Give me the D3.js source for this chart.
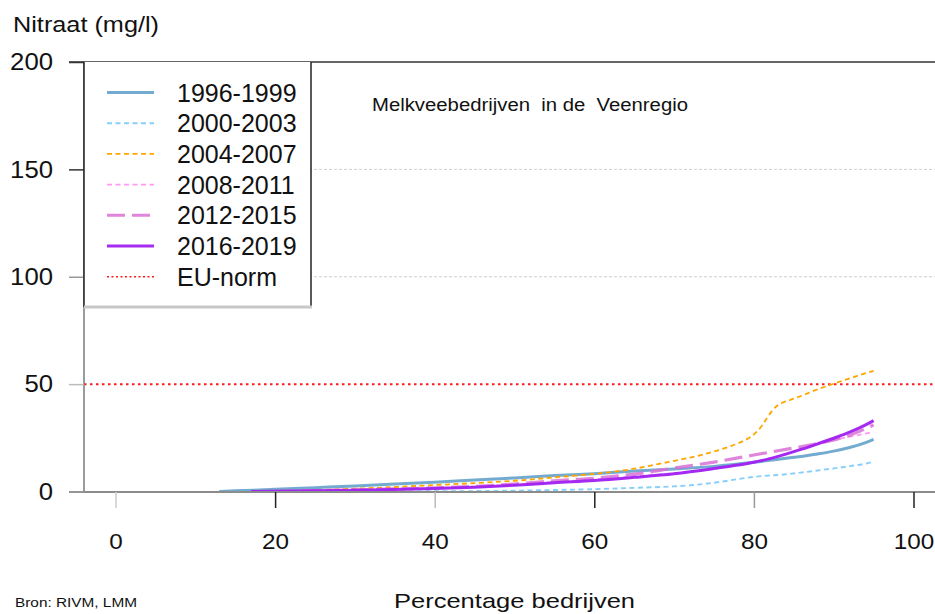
<!DOCTYPE html>
<html>
<head>
<meta charset="utf-8">
<script src="https://cdn.jsdelivr.net/npm/d3@7"></script>
<style>
  body { margin: 0; background: #fff; }
  text { font-family: "Liberation Sans", Arial, sans-serif; fill: #111; }
</style>
</head>
<body>
<div id="chart"></div>
<script>
// values: percentage of farms (x) vs nitrate mg/l (y)
var labels = ["1996-1999", "2000-2003", "2004-2007", "2008-2011", "2012-2015", "2016-2019"];

var x1996 = [13, 15, 20, 25, 30, 35, 40, 45, 50, 55, 60, 65, 70, 75, 80, 85, 88, 90, 92, 94, 95];
var y1996 = [0, 0.3, 1.0, 1.8, 2.6, 3.5, 4.3, 5.4, 6.3, 7.4, 8.3, 9.5, 10.5, 11.7, 13.6, 15.9, 17.5, 18.8, 20.5, 22.8, 24.3];

var x2000 = [25, 30, 35, 40, 45, 50, 55, 60, 65, 70, 73, 76, 78, 80, 84, 88, 92, 94, 95];
var y2000 = [0, 0, 0.05, 0.1, 0.2, 0.4, 0.7, 1.1, 1.7, 2.4, 3.2, 4.6, 5.8, 6.8, 8.0, 9.8, 11.8, 13.0, 13.9];

var x2004 = [20, 25, 30, 35, 40, 45, 50, 55, 60, 65, 68, 72, 75, 77, 78.5, 79.5, 80.3, 81, 81.6, 82.2, 82.8, 83.5, 84.5, 86, 88, 90, 92.5, 95];
var y2004 = [0, 0.6, 1.3, 2.1, 3.0, 3.9, 5.0, 6.6, 8.2, 10.6, 12.8, 15.8, 18.6, 21.0, 23.2, 25.2, 27.6, 30.6, 34.0, 37.2, 39.6, 41.2, 42.6, 44.6, 47.6, 50.2, 53.3, 56.2];

var x2008 = [20, 25, 30, 35, 40, 45, 50, 55, 60, 65, 70, 75, 80, 84, 88, 90, 92, 94, 95];
var y2008 = [0, 0.3, 0.7, 1.1, 1.6, 2.3, 3.2, 4.4, 5.6, 7.0, 8.6, 10.6, 13.8, 17.4, 22.3, 24.0, 25.5, 27.0, 27.8];

var x2012 = [17, 20, 25, 30, 35, 40, 45, 50, 55, 60, 65, 70, 75, 80, 84, 87, 90, 92, 94, 95];
var y2012 = [0, 0.1, 0.4, 0.8, 1.2, 1.7, 2.4, 3.5, 5.0, 6.2, 8.1, 10.9, 13.7, 17.0, 19.6, 21.6, 24.0, 26.2, 29.3, 31.0];

var x2016 = [17, 20, 25, 30, 35, 40, 45, 50, 55, 60, 65, 70, 75, 78, 80, 82, 84, 86, 88, 90, 92, 94, 95];
var y2016 = [0, 0.1, 0.3, 0.6, 0.9, 1.4, 2.0, 2.9, 4.1, 5.1, 6.6, 8.3, 10.7, 12.3, 13.6, 15.3, 17.4, 19.7, 22.2, 24.8, 27.6, 31.0, 33.0];

var euNorm = 50;
var xTicks = [0, 20, 40, 60, 80, 100];
var yTicks = [0, 50, 100, 150, 200];
var gridValues = [100, 150];

var width = 935,
  height = 614;

var svg = d3
  .select("#chart")
  .append("svg")
  .attr("width", width)
  .attr("height", height);

var xscale = d3.scaleLinear().domain([0, 100]).range([115.5, 913.5]);
var yscale = d3.scaleLinear().domain([0, 200]).range([491.5, 62]);

var left = 84,
  right = width;

// gridlines
svg
  .selectAll(".grid")
  .data(gridValues)
  .enter()
  .append("line")
  .attr("x1", left)
  .attr("x2", right)
  .attr("y1", (d) => yscale(d))
  .attr("y2", (d) => yscale(d))
  .attr("stroke", "#cfcfcf")
  .attr("stroke-width", 1)
  .attr("stroke-dasharray", "3,2");

// EU norm
svg
  .append("line")
  .attr("x1", left)
  .attr("x2", right)
  .attr("y1", yscale(euNorm))
  .attr("y2", yscale(euNorm))
  .attr("stroke", "#ff1a1a")
  .attr("stroke-width", 2)
  .attr("stroke-dasharray", "2.5,3.5");

var series = [
  { name: labels[0], xs: x1996, ys: y1996, color: "#6ca6cd", w: 3, dash: null, op: 0.95 },
  { name: labels[1], xs: x2000, ys: y2000, color: "#87cefa", w: 1.9, dash: "5,3.5", op: 1 },
  { name: labels[2], xs: x2004, ys: y2004, color: "#ffa500", w: 1.8, dash: "5,3.5", op: 1 },
  { name: labels[3], xs: x2008, ys: y2008, color: "#ff99f5", w: 1.8, dash: "5,3.5", op: 1 },
  { name: labels[4], xs: x2012, ys: y2012, color: "#da70d6", w: 3.2, dash: "18,7", op: 0.85 },
  { name: labels[5], xs: x2016, ys: y2016, color: "#a020f0", w: 3, dash: null, op: 0.95 }
];

var line = d3
  .line()
  .x((d) => xscale(d[0]))
  .y((d) => yscale(d[1]))
  .curve(d3.curveMonotoneX);

series.forEach((s) => {
  var pts = s.xs.map((v, i) => [v, s.ys[i]]);
  svg
    .append("path")
    .attr("d", line(pts))
    .attr("fill", "none")
    .attr("stroke", s.color)
    .attr("stroke-width", s.w)
    .attr("stroke-opacity", s.op)
    .attr("stroke-dasharray", s.dash);
});

// frame: top border dark, left and bottom grey
svg.append("line").attr("x1", 69).attr("x2", right).attr("y1", 62).attr("y2", 62)
  .attr("stroke", "#333").attr("stroke-width", 1.5);
svg.append("line").attr("x1", left).attr("x2", left).attr("y1", 62).attr("y2", 492)
  .attr("stroke", "#7a7a7a").attr("stroke-width", 1.5);
svg.append("line").attr("x1", 69).attr("x2", right).attr("y1", 492).attr("y2", 492)
  .attr("stroke", "#8c8c8c").attr("stroke-width", 2);

// axes
var tickColorY = { 0: "#999", 50: "#bbb", 100: "#999", 150: "#333", 200: "#333" };
var tickColorX = { 0: "#ccc", 20: "#222", 40: "#bbb", 60: "#222", 80: "#999", 100: "#222" };

var y_axis = d3.axisLeft(yscale).tickValues(yTicks).tickSize(15).tickSizeOuter(0).tickPadding(16);
var gy = svg.append("g").attr("transform", "translate(" + left + ",0)").call(y_axis);
gy.select(".domain").remove();
gy.selectAll(".tick line").attr("stroke", (d) => tickColorY[d]).attr("stroke-width", 1.5);
gy.selectAll(".tick text")
  .style("font-size", "24px")
  .attr("fill", "#111")
  .attr("textLength", (d) => String(d).length * 14.3)
  .attr("lengthAdjust", "spacingAndGlyphs");

var x_axis = d3.axisBottom(xscale).tickValues(xTicks).tickSize(16).tickSizeOuter(0).tickPadding(25);
var gx = svg.append("g").attr("transform", "translate(0,492)").call(x_axis);
gx.select(".domain").remove();
gx.selectAll(".tick line").attr("stroke", (d) => tickColorX[d]).attr("stroke-width", 1.5);
gx.selectAll(".tick text")
  .style("font-size", "22px")
  .attr("fill", "#111")
  .attr("textLength", (d) => String(d).length * 13.5)
  .attr("lengthAdjust", "spacingAndGlyphs");

// legend
var lg = svg.append("g");
lg.append("rect")
  .attr("x", left)
  .attr("y", 62)
  .attr("width", 311 - left)
  .attr("height", 307 - 62)
  .attr("fill", "#fff");
lg.append("line").attr("x1", left).attr("x2", left).attr("y1", 62).attr("y2", 307)
  .attr("stroke", "#222").attr("stroke-width", 1.5);
lg.append("line").attr("x1", 311).attr("x2", 311).attr("y1", 62).attr("y2", 307)
  .attr("stroke", "#222").attr("stroke-width", 1.5);
lg.append("line").attr("x1", left).attr("x2", 312).attr("y1", 307).attr("y2", 307)
  .attr("stroke", "#c8c8c8").attr("stroke-width", 3);

var legendItems = series.map((s) => ({ name: s.name, color: s.color, w: s.w, dash: s.dash, op: s.op }));
legendItems.push({ name: "EU-norm", color: "#ff1a1a", w: 1.6, dash: "2,2.5", op: 1 });

legendItems.forEach((d, i) => {
  var cy = 92.5 + i * 30.7;
  lg.append("line")
    .attr("x1", 107)
    .attr("x2", 154)
    .attr("y1", cy)
    .attr("y2", cy)
    .attr("stroke", d.color)
    .attr("stroke-width", Math.min(d.w, 3))
    .attr("stroke-opacity", d.op)
    .attr("stroke-dasharray", d.dash);
  lg.append("text")
    .attr("x", 177)
    .attr("y", cy + 9)
    .style("font-size", "25px")
    .text(d.name);
});

// texts
svg.append("text")
  .attr("x", 13)
  .attr("y", 32)
  .attr("textLength", 146)
  .attr("lengthAdjust", "spacingAndGlyphs")
  .style("font-size", "22px")
  .text("Nitraat (mg/l)");

svg.append("text")
  .attr("x", 372)
  .attr("y", 111)
  .attr("textLength", 316)
  .attr("lengthAdjust", "spacingAndGlyphs")
  .style("font-size", "18px")
  .style("white-space", "pre")
  .text("Melkveebedrijven  in de  Veenregio");

svg.append("text")
  .attr("x", 394)
  .attr("y", 608)
  .attr("textLength", 241)
  .attr("lengthAdjust", "spacingAndGlyphs")
  .style("font-size", "21px")
  .text("Percentage bedrijven");

svg.append("text")
  .attr("x", 15)
  .attr("y", 607)
  .attr("textLength", 122)
  .attr("lengthAdjust", "spacingAndGlyphs")
  .style("font-size", "12px")
  .text("Bron: RIVM, LMM");
</script>
</body>
</html>
